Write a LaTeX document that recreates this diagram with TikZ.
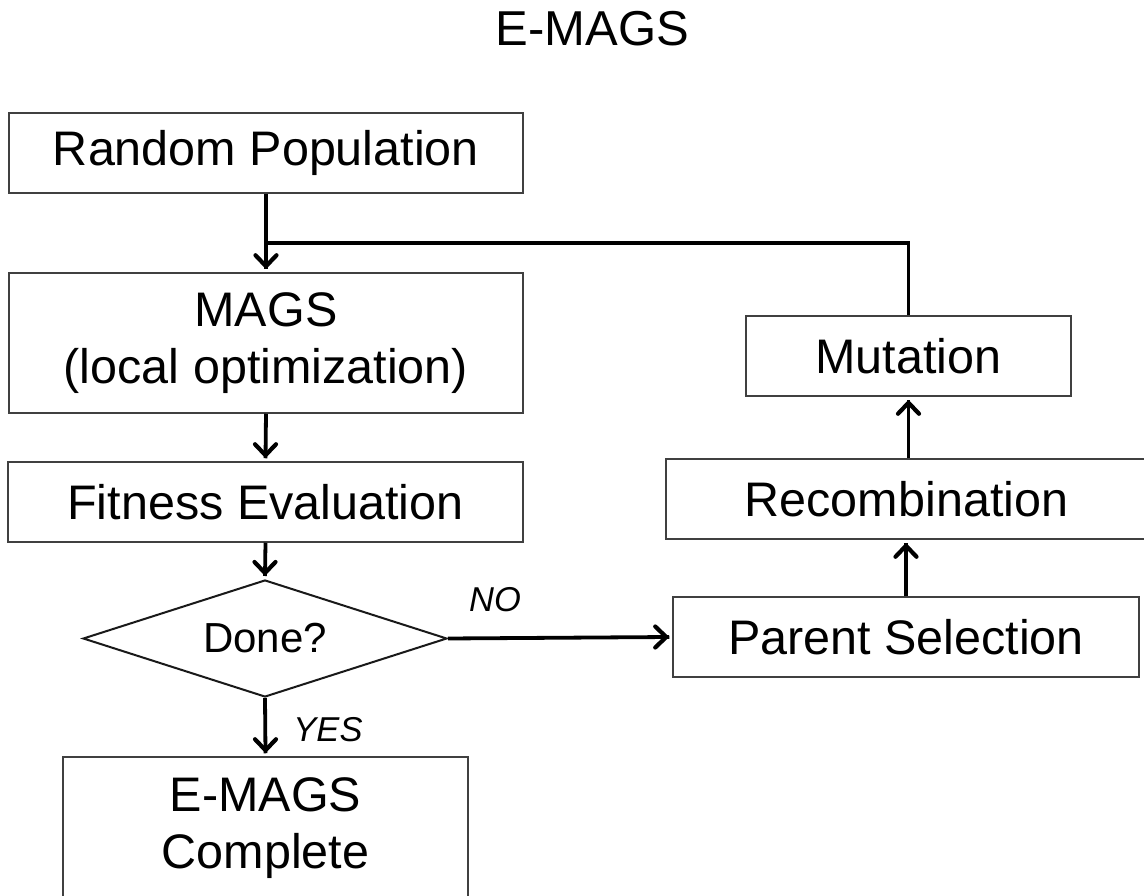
\documentclass[tikz,border=0pt]{standalone}
\usepackage{fontspec}
\setmainfont{Liberation Sans}
\usetikzlibrary{shapes.geometric}
\begin{document}
\begin{tikzpicture}[x=1pt,y=-1pt,
  box/.style={draw=black!75,line width=1.5pt,rectangle,inner sep=0pt,align=center,
    font=\fontsize{48.5}{57}\selectfont},
  conn/.style={line width=3.8pt,black},
  barbstyle/.style={line width=4.2pt,black,line cap=round,line join=round},
  barbdown/.pic={\draw[barbstyle] (-10.5,-11) -- (0,0) -- (10.5,-11);},
  barbup/.pic={\draw[barbstyle] (-10.5,11) -- (0,0) -- (10.5,11);},
  barbright/.pic={\draw[barbstyle] (-11,-10.5) -- (0,0) -- (-11,10.5);},
  lbl/.style={font=\fontsize{34.5}{40}\selectfont\itshape,inner sep=0pt}]
\fill[white] (0,0) rectangle (1144,896);
\useasboundingbox (0,0) rectangle (1144,896);
\clip (0,0) rectangle (1144,896);

\node[inner sep=0pt,font=\fontsize{49}{58}\selectfont] (title) at (592.5,28.5) {E-MAGS};

\node[box,minimum width=514pt,minimum height=80pt] (rp) at (266,153) {Random Population};
\node[box,minimum width=514pt,minimum height=140pt] (mags) at (266,343) {MAGS\\(local optimization)};
\node[box,minimum width=515pt,minimum height=80pt] (fit) at (265.5,502) {Fitness Evaluation};
\node[draw=black!90,line width=2pt,diamond,aspect=3.11,minimum width=364pt,minimum height=117pt,inner sep=0pt,
  font=\fontsize{42}{50}\selectfont] (done) at (265,638.5) {Done?};
\node[box,minimum width=405pt,minimum height=142pt] (fin) at (265.5,828) {E-MAGS\\Complete};

\node[box,minimum width=325pt,minimum height=80pt] (mut) at (908.5,356) {Mutation};
\node[box,minimum width=481pt,minimum height=80pt] (rec) at (906.5,499) {Recombination};
\node[box,minimum width=466pt,minimum height=80pt] (ps) at (906,637) {Parent Selection};

\coordinate (j) at (268,243);

\draw[conn] (rp.south) -- ([yshift=3pt]mags.north) pic[yshift=3pt] {barbdown};
\draw[conn] (mut.north) |- (j);
\draw[conn] (mags.south) -- ([yshift=3pt]fit.north) pic[yshift=3pt] {barbdown};
\draw[conn] (fit.south) -- ([yshift=3pt]done.north) pic[yshift=3pt] {barbdown};
\draw[conn] (done.south) -- ([yshift=3pt]fin.north) pic[yshift=3pt] {barbdown};
\draw[conn] (done.east) -- ([xshift=-3pt]ps.west) pic[xshift=-3pt] {barbright};
\draw[conn] (ps.north) -- ([yshift=-3pt]ps.north |- rec.south) pic[yshift=-3pt] {barbup};
\draw[conn] (rec.north -| mut.south) -- ([yshift=-3pt]mut.south) pic[yshift=-3pt] {barbup};

\node[lbl] (no) at (495,600) {NO};
\node[lbl] (yes) at (328,730) {YES};
\end{tikzpicture}
\end{document}
